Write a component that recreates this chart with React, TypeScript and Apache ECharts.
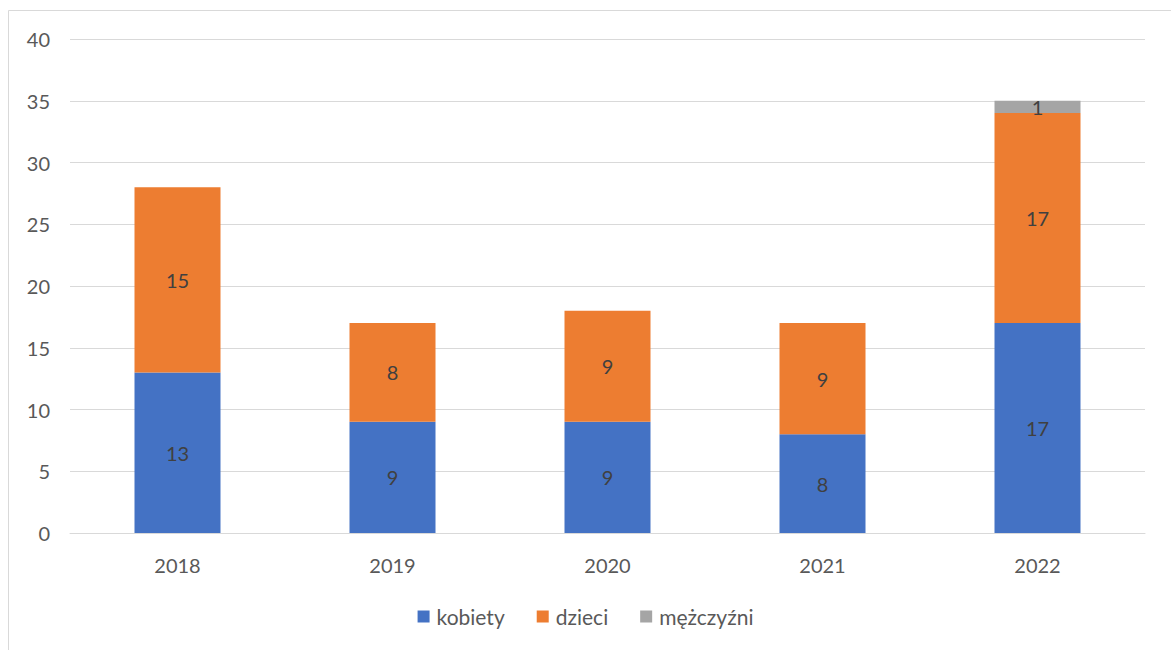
import React, { useEffect, useRef } from "react";
import * as echarts from "echarts";

const categories = ["2018", "2019", "2020", "2021", "2022"];
const kobiety = [13, 9, 9, 8, 17];
const dzieci = [15, 8, 9, 9, 17];
const mezczyzni: (number | null)[] = [null, null, null, null, 1];
const yTicks = { min: 0, max: 40, interval: 5 };

const FONT = "Lato, 'Open Sans', sans-serif";
const FS = 20;

export default function App() {
  const ref = useRef<HTMLDivElement>(null);
  useEffect(() => {
    const chart = echarts.init(ref.current!, null, { renderer: "svg" });
    const label = {
      show: true,
      position: "inside",
      color: "#404040",
      fontSize: FS,
      fontFamily: FONT,
    };
    chart.setOption({
      animation: false,
      backgroundColor: "#ffffff",
      textStyle: { fontFamily: FONT },
      graphic: [
        {
          type: "rect",
          shape: { x: 8.5, y: 10.5, width: 1200, height: 700 },
          style: { fill: "none", stroke: "#d9d9d9", lineWidth: 1 },
          silent: true,
          z: -1,
        },
      ],
      grid: { left: 70, right: 26, top: 39, bottom: 117, containLabel: false },
      legend: {
        top: 601,
        left: "center",
        itemWidth: 12,
        itemHeight: 12,
        itemGap: 32,
        icon: "rect",
        textStyle: { color: "#595959", fontSize: 21, fontFamily: FONT, padding: [0, 0, 0, 2] },
        data: ["kobiety", "dzieci", "mężczyźni"],
      },
      xAxis: {
        type: "category",
        data: categories,
        axisLine: { show: true, lineStyle: { color: "#d9d9d9", width: 1 } },
        axisTick: { show: false },
        axisLabel: { color: "#595959", fontSize: FS, margin: 22, fontFamily: FONT },
      },
      yAxis: {
        type: "value",
        min: yTicks.min,
        max: yTicks.max,
        interval: yTicks.interval,
        axisLine: { show: false },
        axisTick: { show: false },
        splitLine: { lineStyle: { color: "#d9d9d9", width: 1 } },
        axisLabel: { color: "#595959", fontSize: FS, margin: 20, fontFamily: FONT },
      },
      series: [
        {
          name: "kobiety",
          type: "bar",
          stack: "total",
          barWidth: "40%",
          data: kobiety,
          itemStyle: { color: "#4472c4" },
          label,
        },
        {
          name: "dzieci",
          type: "bar",
          stack: "total",
          data: dzieci,
          itemStyle: { color: "#ed7d31" },
          label,
        },
        {
          name: "mężczyźni",
          type: "bar",
          stack: "total",
          data: mezczyzni,
          itemStyle: { color: "#a5a5a5" },
          label,
        },
      ],
    });
    return () => chart.dispose();
  }, []);
  return (
    <div
      ref={ref}
      style={{ position: "absolute", left: 0, top: 0, width: 1171, height: 650 }}
    />
  );
}
